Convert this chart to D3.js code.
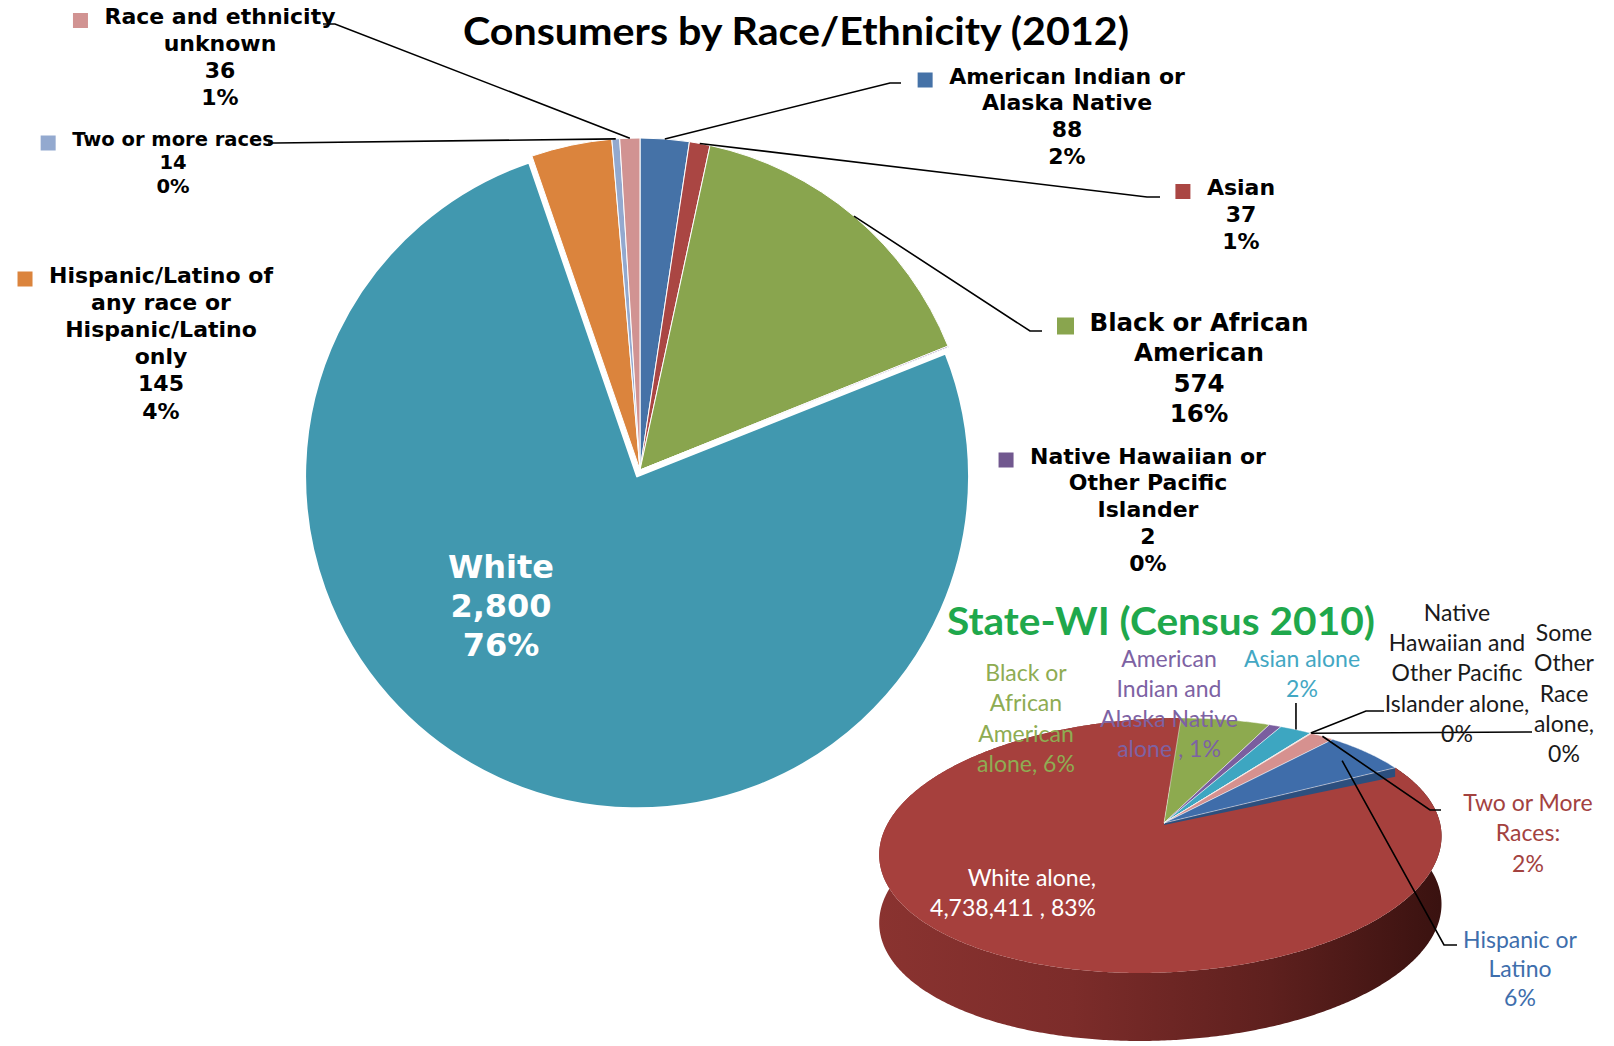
<!DOCTYPE html>
<html><head><meta charset="utf-8">
<script src="https://cdn.jsdelivr.net/npm/d3@7"></script>
<style>html,body{margin:0;padding:0;background:#fff}svg{display:block}</style>
</head><body>
<svg id="c" width="1614" height="1046"></svg>
<script>
// ---------- DATA: Consumers by Race/Ethnicity (2012) ----------
const mainCategories = ["American Indian or Alaska Native","Asian","Black or African American","Native Hawaiian or Other Pacific Islander","White","Hispanic/Latino of any race or Hispanic/Latino only","Two or more races","Race and ethnicity unknown"];
const mainValues = [88, 37, 574, 2, 2800, 145, 14, 36];
const mainColors = ["#4572A7","#AA4643","#89A54E","#71588F","#4198AF","#DB843D","#93A9CF","#D19392"];
const mainNameLines = [
  ["American Indian or","Alaska Native"],
  ["Asian"],
  ["Black or African","American"],
  ["Native Hawaiian or","Other Pacific","Islander"],
  ["White"],
  ["Hispanic/Latino of","any race or","Hispanic/Latino","only"],
  ["Two or more races"],
  ["Race and ethnicity","unknown"]
];

// ---------- DATA: State-WI (Census 2010) ----------
const stateCategories = ["Black or African American alone","American Indian and Alaska Native alone","Asian alone","Native Hawaiian and Other Pacific Islander alone","Some Other Race alone","Two or More Races","Hispanic or Latino","White alone"];
const stateValues = [350898, 48511, 127942, 1621, 3430, 97000, 336056, 4738411];
const stateColors = ["#8DAA4F","#7A5E9F","#3DA6C1","#9A7FBF","#F39A4B","#D6918F","#3F6DAA","#A6403D"];
const stateTextColors = ["#8EAC52","#7D62A3","#43A7C3","#1a1a1a","#1a1a1a","#A3423F","#3E6EAC","#ffffff"];
const stateLabelLines = [
  ["Black or","African","American","alone, {p}"],
  ["American","Indian and","Alaska Native","alone , {p}"],
  ["Asian alone","{p}"],
  ["Native","Hawaiian and","Other Pacific","Islander alone,","{p}"],
  ["Some","Other","Race","alone,","{p}"],
  ["Two or More","Races:","{p}"],
  ["Hispanic or","Latino","{p}"],
  ["White alone,","{v} , {p}"]
];

const mainTitle = "Consumers by Race/Ethnicity (2012)";
const stateTitle = "State-WI (Census 2010)";

// ---------- LAYOUT ----------
const svg = d3.select("#c");
const fmt = d3.format(",");

const M = {cx: 640, cy: 470, r: 332, explode: 7};
const mainLabelLayout = [
  {x:1067, y:76,  lh:26.8, fs:22,   lead:[[890,83],[901,83]]},
  {x:1241, y:187.5, lh:27, fs:22,   lead:[[1147,197],[1160,197]]},
  {x:1199, y:322, lh:30.5, fs:24.5, ms:17, lead:[[1030,331],[1042,331]]},
  {x:1148, y:456, lh:26.8, fs:22,   lead:null},
  {x:501,  y:567, lh:39,   fs:32,   inside:true},
  {x:161,  y:275, lh:27.2, fs:22,   lead:null},
  {x:173,  y:139, lh:23.5, fs:19.5, lead:[[276,143],[268,143]]},
  {x:220,  y:16.5, lh:27,  fs:22,   lead:[[335,24],[323,24]]}
];

const total = d3.sum(mainValues);
const pie = d3.pie().sort(null).value(d => d.v);
const mainData = mainCategories.map((c, i) => ({c, v: mainValues[i], col: mainColors[i], i}));
const arcsMain = pie(mainData);
const arcMain = d3.arc().innerRadius(0).outerRadius(M.r);

const gMain = svg.append("g").attr("transform", `translate(${M.cx},${M.cy})`);
gMain.selectAll("path").data(arcsMain).join("path")
  .attr("d", arcMain)
  .attr("fill", d => d.data.col)
  .attr("stroke", "#fff")
  .attr("stroke-width", d => d.data.i === 4 ? 2 : 1)
  .attr("stroke-linejoin", "round")
  .attr("transform", d => {
    if (d.data.i !== 4) return null;
    const a = (d.startAngle + d.endAngle) / 2;
    return `translate(${M.explode * Math.sin(a)},${-M.explode * Math.cos(a)})`;
  });

const leaderG = svg.append("g");
arcsMain.forEach((d, i) => {
  const L = mainLabelLayout[i];
  if (!L.lead) return;
  const a = (d.startAngle + d.endAngle) / 2;
  const p0 = [M.cx + M.r * Math.sin(a), M.cy - M.r * Math.cos(a)];
  leaderG.append("path")
    .attr("d", d3.line()([p0, ...L.lead]))
    .attr("fill", "none").attr("stroke", "#000").attr("stroke-width", 1.6);
});

arcsMain.forEach((d, i) => {
  const L = mainLabelLayout[i];
  const pct = Math.round(d.data.v / total * 100) + "%";
  const lines = [...mainNameLines[i], fmt(d.data.v), pct];
  const g = svg.append("g");
  const t = g.append("text")
    .attr("font-family", "'DejaVu Sans', Verdana, sans-serif")
    .attr("font-weight", "bold")
    .attr("font-size", L.fs)
    .attr("fill", L.inside ? "#fff" : "#000")
    .attr("text-anchor", "middle");
  lines.forEach((ln, k) => {
    t.append("tspan").attr("x", L.x).attr("y", L.y + k * L.lh)
      .attr("dominant-baseline", "central").text(ln);
  });
  if (!L.inside) {
    const w = t.select("tspan").node().getComputedTextLength();
    const ms = L.ms || 15;
    const mx = L.x - w / 2 - 24;
    g.append("rect").attr("x", mx - ms / 2).attr("y", L.y + 4 - ms / 2)
      .attr("width", ms).attr("height", ms).attr("fill", d.data.col);
  }
});

svg.append("text").attr("x", 796).attr("y", 30)
  .attr("dominant-baseline", "central").attr("text-anchor", "middle")
  .attr("font-family", "Lato, 'Open Sans', sans-serif").attr("font-weight", "bold")
  .attr("font-size", 39).attr("fill", "#000")
  .attr("textLength", 666).attr("lengthAdjust", "spacingAndGlyphs")
  .text(mainTitle);

// ---------- 3D pie ----------
const P = {ax: 1164, ay: 823, A: 276, B: 123.5, S: 20, k: 0.1765, h: 68};
function proj(theta, dy = 0) {
  const s = Math.sin(theta), c = Math.cos(theta);
  const den = 1 + P.k * c;
  return [P.ax + (P.A * s + P.S * c) / den, P.ay - P.B * c / den + dy];
}
function rimPts(a0, a1, dy = 0) {
  const n = Math.max(2, Math.ceil(Math.abs(a1 - a0) / (Math.PI / 360)));
  return d3.range(n + 1).map(j => proj(a0 + (a1 - a0) * j / n, dy));
}
const stateTotal = d3.sum(stateValues);
const stateData = stateCategories.map((c, i) => ({c, v: stateValues[i], col: stateColors[i], i}));
const arcsState = pie(stateData);

const defs = svg.append("defs");
const grad = defs.append("linearGradient").attr("id", "sideGrad")
  .attr("gradientUnits", "userSpaceOnUse").attr("x1", 875).attr("y1", 0).attr("x2", 1440).attr("y2", 0);
[["0%", "#8a3330"], ["35%", "#7c2c2a"], ["70%", "#5e201e"], ["100%", "#3a1210"]]
  .forEach(([o, c]) => grad.append("stop").attr("offset", o).attr("stop-color", c));

const g3 = svg.append("g");
const whiteArc = arcsState[7];
const rimTop = rimPts(whiteArc.startAngle, whiteArc.endAngle);
const rimBot = rimPts(whiteArc.startAngle, whiteArc.endAngle, P.h).reverse();
g3.append("path").attr("d", d3.line()([...rimTop, ...rimBot]) + "Z").attr("fill", "url(#sideGrad)");
const apex = [P.ax, P.ay];
function topFace(d) {
  return d3.line()([apex, ...rimPts(d.startAngle, d.endAngle)]) + "Z";
}
g3.append("path").attr("d", topFace(whiteArc)).attr("fill", whiteArc.data.col);
const hispArc = arcsState[6];
const pe = proj(hispArc.endAngle);
g3.append("path").attr("d", d3.line()([apex, pe, [pe[0], pe[1] + 9], [apex[0], apex[1] + 2]]) + "Z")
  .attr("fill", "#2c4f7e");
g3.selectAll("path.s").data(arcsState.slice(0, 7)).join("path").attr("class", "s")
  .attr("d", topFace).attr("fill", d => d.data.col)
  .attr("stroke", "rgba(255,255,255,0.6)").attr("stroke-width", 0.8);

svg.append("text").attr("x", 1161).attr("y", 620)
  .attr("dominant-baseline", "central").attr("text-anchor", "middle")
  .attr("font-family", "Lato, 'Open Sans', sans-serif").attr("font-weight", "bold")
  .attr("font-size", 38).attr("fill", "#1fa84c")
  .attr("textLength", 428).attr("lengthAdjust", "spacingAndGlyphs")
  .text(stateTitle);

const stateLabelLayout = [
  {x:1026, y:672, lh:30.3, anchor:"middle"},
  {x:1169, y:658, lh:30,   anchor:"middle"},
  {x:1302, y:658, lh:30,   anchor:"middle", lead:"vert", topY:703},
  {x:1457, y:612, lh:30.2, anchor:"middle", lead:[[1366,711],[1384,711]]},
  {x:1564, y:632, lh:30.3, anchor:"middle", lead:[[1532,732]]},
  {x:1528, y:802, lh:30.3, anchor:"middle", lead:[[1430,810],[1441,810]]},
  {x:1520, y:939, lh:29,   anchor:"middle", lead:[[1444,945],[1457,945]], inner:0.88},
  {x:1096, y:877, lh:30,   anchor:"end"}
];
const lg = svg.append("g");
arcsState.forEach((d, i) => {
  const L = stateLabelLayout[i];
  if (!L.lead) return;
  const a = (d.startAngle + d.endAngle) / 2;
  let p0 = proj(a);
  if (L.inner) { p0 = [apex[0] + (p0[0] - apex[0]) * L.inner, apex[1] + (p0[1] - apex[1]) * L.inner]; }
  const pts = L.lead === "vert" ? [p0, [p0[0], L.topY]] : [p0, ...L.lead];
  lg.append("path").attr("d", d3.line()(pts)).attr("fill", "none")
    .attr("stroke", "#000").attr("stroke-width", 1.6);
});
arcsState.forEach((d, i) => {
  const L = stateLabelLayout[i];
  const pct = Math.round(d.data.v / stateTotal * 100) + "%";
  const t = svg.append("text")
    .attr("font-family", "Lato, 'Open Sans', sans-serif")
    .attr("font-size", 23).attr("fill", stateTextColors[i])
    .attr("text-anchor", L.anchor);
  stateLabelLines[i].forEach((ln, k) => {
    t.append("tspan").attr("x", L.x).attr("y", L.y + k * L.lh)
      .attr("dominant-baseline", "central")
      .text(ln.replace("{p}", pct).replace("{v}", fmt(d.data.v)));
  });
});
</script>
</body></html>
